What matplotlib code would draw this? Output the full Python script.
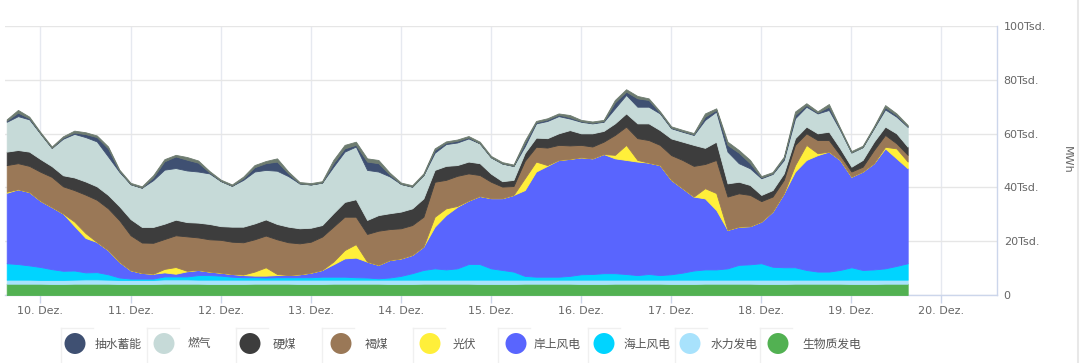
import numpy as np
import pandas as pd
import matplotlib
matplotlib.use("Agg")
import matplotlib.pyplot as plt
import matplotlib.dates as mdates

plt.rcParams["font.family"] = ["DejaVu Sans", "Noto Sans CJK SC"]

# Stromerzeugung 9.-19. Dez., one value every 3 h, in Tsd. MWh
times = pd.date_range("2024-12-09 15:00", periods=81, freq="3h")

biomass = [4.2, 4.2, 4.2, 4.2, 4.1, 4.1, 4.2, 4.2, 4.2, 4.2, 4.1, 4.1, 4.1, 4.1, 4.2, 4.2, 4.2,
           4.2, 4.1, 4.1, 4.1, 4.1, 4.2, 4.2, 4.2, 4.2, 4.1, 4.1, 4.1, 4.2, 4.2, 4.2, 4.2, 4.2,
           4.1, 4.1, 4.1, 4.2, 4.2, 4.2, 4.2, 4.2, 4.1, 4.1, 4.1, 4.1, 4.2, 4.2, 4.2, 4.2, 4.2,
           4.1, 4.1, 4.1, 4.2, 4.2, 4.2, 4.2, 4.2, 4.1, 4.1, 4.1, 4.2, 4.2, 4.2, 4.2, 4.2, 4.1,
           4.1, 4.1, 4.2, 4.2, 4.2, 4.2, 4.2, 4.1, 4.1, 4.1, 4.2, 4.2, 4.2]
hydro = [1.5, 1.5, 1.5, 1.4, 1.5, 1.5, 1.5, 1.6, 1.6, 1.5, 1.5, 1.5, 1.5, 1.5, 1.6, 1.6, 1.6,
         1.5, 1.6, 1.6, 1.6, 1.6, 1.5, 1.5, 1.5, 1.5, 1.6, 1.6, 1.6, 1.5, 1.5, 1.5, 1.5, 1.5,
         1.6, 1.6, 1.6, 1.5, 1.5, 1.5, 1.5, 1.5, 1.6, 1.6, 1.6, 1.6, 1.5, 1.5, 1.5, 1.5, 1.5,
         1.6, 1.6, 1.6, 1.5, 1.5, 1.5, 1.5, 1.5, 1.6, 1.6, 1.6, 1.5, 1.5, 1.5, 1.5, 1.5, 1.6,
         1.6, 1.6, 1.5, 1.5, 1.5, 1.5, 1.5, 1.6, 1.6, 1.6, 1.5, 1.5, 1.5]
offshore = [6.1, 5.8, 5.3, 4.8, 4.0, 3.4, 3.4, 2.6, 2.7, 2.0, 0.9, 0.5, 0.5, 0.5, 1.1, 1.1, 1.1,
            1.7, 1.7, 1.5, 1.1, 0.9, 0.9, 0.8, 0.9, 0.9, 0.9, 0.9, 1.1, 1.1, 1.1, 0.9, 0.8, 0.5,
            0.8, 1.4, 2.4, 3.6, 4.2, 3.8, 4.2, 5.8, 5.8, 4.2, 3.6, 3.0, 1.4, 1.1, 1.1, 1.1, 1.4,
            2.0, 2.1, 2.4, 2.4, 2.1, 1.7, 2.1, 1.7, 2.0, 2.6, 3.4, 3.8, 3.8, 4.2, 5.5, 5.7, 6.1,
            4.8, 4.6, 4.6, 3.6, 3.0, 3.0, 3.6, 4.6, 3.6, 3.8, 4.2, 5.1, 6.1]
onshore = [26.2, 27.8, 27.3, 24.6, 23.1, 21.3, 16.6, 12.8, 11.2, 9.0, 5.8, 3.1, 2.1, 1.8, 1.5,
           1.0, 1.9, 1.9, 1.3, 1.1, 1.0, 0.8, 0.6, 0.7, 0.8, 0.8, 1.1, 1.7, 2.5, 4.6, 6.8, 7.3,
           5.9, 5.0, 6.5, 6.5, 6.8, 8.7, 15.5, 20.2, 22.9, 23.6, 25.3, 26.1, 26.7, 28.5, 31.9,
           39.1, 41.2, 43.4, 43.5, 43.5, 43.0, 44.3, 42.7, 42.4, 42.2, 41.4, 40.9, 35.1, 31.4,
           27.5, 26.4, 22.1, 14.3, 14.2, 14.2, 15.5, 20.5, 27.5, 35.6, 40.9, 43.3, 44.6, 40.9,
           33.7, 36.6, 39.5, 44.6, 40.0, 35.3]
solar = [0.4, 0, 0, 0, 0, 0, 1.6, 1.8, 0, 0, 0, 0, 0, 0, 1.3, 2.5, 0.2, 0, 0, 0, 0, 0.2, 1.5,
         3.1, 0.4, 0, 0, 0, 0, 1.0, 3.1, 5.0, 0, 0, 0, 0, 0, 0, 3.7, 2.5, 0.3, 0, 0, 0, 0, 0,
         4.4, 3.7, 0.3, 0, 0, 0, 0, 0, 1.3, 5.6, 0.6, 0, 0, 0, 0, 0, 3.8, 6.3, 0, 0, 0, 0, 0,
         0, 2.4, 5.6, 0.7, 0, 0, 0, 0, 0, 0.6, 3.7, 2.5]
lignite = [9.9, 9.7, 9.7, 10.8, 11.2, 10.1, 11.7, 14.3, 15.7, 15.5, 15.5, 13.0, 11.3, 11.5,
           11.1, 11.8, 12.8, 12.1, 12.0, 12.2, 12.0, 12.0, 12.0, 11.8, 12.9, 12.2, 11.5, 11.5,
           12.4, 13.0, 12.4, 10.2, 10.3, 12.7, 11.5, 11.2, 11.1, 11.1, 13.0, 10.6, 11.2, 10.1,
           7.8, 6.1, 4.3, 3.3, 6.5, 5.5, 6.5, 5.6, 5.0, 4.6, 4.4, 4.6, 7.4, 6.8, 8.1, 8.4, 7.5,
           9.2, 10.5, 11.4, 9.0, 12.3, 12.4, 12.4, 11.6, 7.6, 5.6, 5.0, 7.5, 4.3, 4.9, 4.3, 1.8,
           1.9, 1.8, 4.9, 4.4, 1.9, 2.5]
hardcoal = [5.0, 4.9, 5.3, 4.7, 4.0, 4.1, 4.7, 4.9, 5.0, 5.0, 5.2, 6.0, 5.8, 5.9, 5.7, 5.8,
            5.3, 5.5, 5.7, 5.1, 5.6, 5.8, 5.9, 6.0, 5.7, 5.8, 5.6, 5.2, 4.3, 5.0, 5.5, 6.5, 5.2,
            5.8, 5.9, 6.2, 6.2, 6.8, 4.4, 5.2, 4.0, 4.4, 4.4, 3.0, 2.0, 2.3, 2.9, 3.4, 3.5, 4.3,
            5.7, 4.3, 4.9, 4.0, 4.3, 4.9, 5.5, 6.2, 5.5, 6.2, 6.8, 7.8, 6.0, 6.8, 4.9, 4.3, 3.7,
            2.3, 2.4, 2.4, 2.5, 2.5, 2.5, 3.1, 2.5, 1.8, 2.5, 3.1, 3.1, 3.7, 3.0]
gas = [11.1, 12.6, 12.0, 9.5, 6.8, 13.6, 16.2, 16.5, 16.7, 14.3, 12.8, 13.0, 14.6, 17.4, 20.1,
       19.2, 19.2, 19.0, 18.8, 16.8, 15.2, 17.4, 19.3, 18.4, 19.8, 18.8, 16.7, 16.1, 15.8, 17.3,
       18.7, 19.6, 18.6, 16.2, 13.7, 10.3, 8.1, 8.7, 6.4, 8.1, 8.4, 8.6, 7.4, 6.1, 6.6, 5.2,
       2.5, 5.3, 6.4, 6.4, 4.3, 4.3, 3.7, 3.4, 5.6, 6.9, 6.2, 6.2, 6.2, 3.8, 3.7, 3.7, 10.4,
       11.2, 11.8, 6.9, 6.2, 6.2, 6.0, 5.0, 7.4, 7.4, 7.4, 8.1, 6.8, 5.3, 4.8, 5.0, 6.4, 6.2,
       7.4]
pumped = [0.4, 1.3, 0.4, 0, 0, 0.4, 0.5, 1.1, 1.6, 3.0, 0.3, 0, 0, 1.0, 3.1, 4.3, 4.0, 3.3,
          0.4, 0, 0, 0.6, 1.6, 2.5, 3.4, 1.0, 0, 0, 0, 1.3, 1.2, 0.6, 3.1, 3.1, 0.7, 0, 0, 0,
          1.0, 0.5, 0.6, 0.4, 0, 0, 0, 0, 1.2, 0.4, 0.5, 0.5, 0.5, 0.2, 0.2, 0.2, 2.2, 1.2, 3.1,
          2.5, 0.3, 0.2, 0.2, 0.2, 1.2, 0.6, 2.5, 3.9, 1.9, 0.3, 0.2, 0.6, 1.2, 0.6, 0.3, 1.2,
          0.3, 0, 0, 0.2, 0.8, 0.6, 0.2]
# thin grey rim on top of the stack (not in the legend)
other = [0.5, 1.0, 0.6, 0.5, 0.5, 0.5, 0.7, 0.7, 0.6, 0.7, 0.5, 0.5, 0.5, 0.8, 0.8, 0.6, 1.0,
         0.8, 0.5, 0.5, 0.5, 0.6, 0.8, 0.8, 1.2, 0.7, 0.5, 0.5, 0.5, 1.2, 1.3, 1.2, 1.2, 1.2,
         0.7, 0.5, 0.5, 0.6, 0.6, 0.5, 0.5, 0.5, 0.6, 0.5, 0.5, 0.5, 0.9, 0.5, 0.5, 0.5, 0.8,
         0.5, 0.5, 0.5, 0.9, 0.9, 0.9, 0.6, 0.5, 0.5, 0.5, 0.5, 1.2, 0.6, 1.2, 1.0, 1.2, 0.5,
         0.5, 0.6, 1.3, 0.7, 0.5, 1.0, 0.5, 0.5, 0.5, 0.5, 0.8, 0.6, 0.5]

# bottom -> top
layers = [biomass, hydro, offshore, onshore, solar, lignite, hardcoal, gas, pumped, other]
colors = ["#52b152", "#a8e2fc", "#00d4ff", "#5965fe", "#ffef3a", "#9a7857", "#3d3d3d",
          "#c6dad8", "#3f5072", "#6e7c70"]

legend_names = ["抽水蓄能", "燃气", "硬煤", "褐煤", "光伏", "岸上风电", "海上风电", "水力发电", "生物质发电"]
legend_colors = ["#3f5072", "#c6dad8", "#3d3d3d", "#9a7857", "#ffef3a", "#5965fe", "#00d4ff",
                 "#a8e2fc", "#52b152"]

W, H = 1080, 363
fig = plt.figure(figsize=(W / 100, H / 100), dpi=100)
ax = fig.add_axes([5 / W, 1 - 295 / H, 991.7 / W, 269 / H])

polys = ax.stackplot(times, *layers, colors=colors, zorder=3)
for p, c in zip(polys, colors):
    p.set_edgecolor(c)
    p.set_linewidth(0.6)

day0 = mdates.date2num(pd.Timestamp("2024-12-10"))
ax.set_xlim(day0 - 0.394, day0 + 10.613)
ax.set_ylim(0, 100)

days = pd.date_range("2024-12-10", "2024-12-20", freq="D")
ax.set_xticks(days)
ax.xaxis.set_major_formatter(mdates.DateFormatter("%d. Dez."))
ax.set_yticks([0, 20, 40, 60, 80, 100])
ax.set_yticklabels(["0", "20Tsd.", "40Tsd.", "60Tsd.", "80Tsd.", "100Tsd."])
ax.yaxis.tick_right()
ax.tick_params(axis="y", length=0, pad=5, labelsize=8, labelcolor="#666666")
ax.tick_params(axis="x", length=6, width=1, color="#ccd6eb", pad=2, labelsize=8,
               labelcolor="#666666")

ax.grid(axis="y", color="#e6e6e6", lw=1, zorder=0)
ax.grid(axis="x", color="#e6e9f0", lw=1, zorder=0)
for s in ("top", "left"):
    ax.spines[s].set_visible(False)
for s in ("bottom", "right"):
    ax.spines[s].set_color("#ccd6eb")
    ax.spines[s].set_linewidth(1)

fig.text(1067 / W, 1 - 160 / H, "MWh", rotation=270, ha="center", va="center",
         fontsize=8, color="#666666")

# legend drawn in pixel space
lax = fig.add_axes([0, 0, 1, 1])
lax.set_xlim(0, W)
lax.set_ylim(H, 0)
lax.axis("off")
circle_x = [75, 164, 250, 341, 430, 516, 604, 690, 778]
text_x = [95, 188, 273, 365, 453, 534, 623, 711, 802]
box_x = [61, 147, 236, 322, 413, 498, 588, 675, 760]
for bx in box_x:
    lax.plot([bx, bx], [328, H], color="#f0f0f0", lw=1)
    lax.plot([bx, bx + 32], [328, 328], color="#f0f0f0", lw=1)
lax.plot([1078, 1078], [0, H], color="#e8e8e8", lw=1.5)
for cx, tx, name, col in zip(circle_x, text_x, legend_names, legend_colors):
    lax.scatter([cx], [343.5], s=228, color=col, edgecolors="none")
    lax.text(tx, 344, name, ha="left", va="center", fontsize=8.5, color="#555555",
             family=["Noto Sans CJK SC", "DejaVu Sans"])

fig.savefig("out.png", dpi=100)
